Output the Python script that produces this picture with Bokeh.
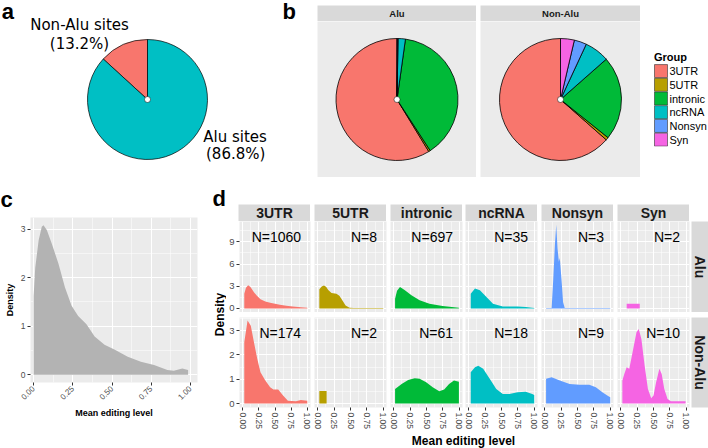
import math
from bokeh.plotting import figure
from bokeh.layouts import row, column
from bokeh.models import (Range1d, FixedTicker, LinearAxis, NumeralTickFormatter, Spacer,
                          FactorRange, Grid, ColumnDataSource)
from bokeh.core.properties import value
from bokeh.embed import file_html
from bokeh.resources import INLINE

# ------------------------------------------------------------------ data
site_names = ["Non-Alu sites", "Alu sites"]
site_percent = [13.2, 86.8]
site_colors = ["#F8766D", "#00BFC4"]

groups = ["3UTR", "5UTR", "intronic", "ncRNA", "Nonsyn", "Syn"]
group_colors = ["#F8766D", "#B79F00", "#00BA38", "#00BFC4", "#619CFF", "#F564E3"]
alu_counts = [1060, 8, 697, 35, 3, 2]
nonalu_counts = [174, 2, 61, 18, 9, 10]
facet_rows = ["Alu", "Non-Alu"]

x_ticks = [0.0, 0.25, 0.5, 0.75, 1.0]
x_minor = [0.125, 0.375, 0.625, 0.875]
c_y_ticks = [0, 1, 2, 3]
c_y_minor = [0.5, 1.5, 2.5]
alu_y_ticks = [0, 3, 6, 9]
alu_y_minor = [1.5, 4.5, 7.5, 10.5]
non_y_ticks = [0, 1, 2, 3]
non_y_minor = [0.5, 1.5, 2.5, 3.5]

# panel c: all sites
c_x = [0.0, 0.01, 0.032, 0.052, 0.063, 0.084, 0.116, 0.158, 0.2, 0.242, 0.284, 0.337,
       0.389, 0.452, 0.515, 0.6, 0.684, 0.768, 0.853, 0.894, 0.948, 0.985]
c_y = [1.62, 2.2, 2.77, 3.05, 3.08, 2.98, 2.7, 2.29, 1.8, 1.42, 1.21, 1.04,
       0.79, 0.62, 0.52, 0.37, 0.27, 0.2, 0.1, 0.08, 0.13, 0.1]

# panel d, Alu row
alu_3utr_x = [0.024, 0.05, 0.084, 0.12, 0.174, 0.22, 0.275, 0.35, 0.425, 0.5, 0.575, 0.675, 0.775, 0.9, 1.0]
alu_3utr_y = [2.0, 2.8, 3.14, 2.9, 2.2, 1.7, 1.23, 0.95, 0.77, 0.62, 0.5, 0.37, 0.27, 0.17, 0.1]
alu_5utr_x = [0.024, 0.06, 0.095, 0.13, 0.16, 0.21, 0.285, 0.33, 0.36, 0.425, 0.485, 0.55, 1.0]
alu_5utr_y = [2.6, 2.95, 3.1, 2.9, 2.5, 2.1, 2.0, 1.7, 1.3, 0.4, 0.1, 0.06, 0.06]
alu_intronic_x = [0.02, 0.05, 0.095, 0.13, 0.17, 0.27, 0.395, 0.545, 0.745, 0.995]
alu_intronic_y = [1.3, 2.4, 2.9, 2.7, 2.45, 1.77, 1.1, 0.64, 0.32, 0.1]
alu_ncrna_x = [0.03, 0.095, 0.17, 0.27, 0.37, 0.52, 0.745, 0.87, 1.0]
alu_ncrna_y = [2.0, 2.7, 2.45, 1.55, 0.64, 0.27, 0.27, 0.18, 0.05]
alu_nonsyn_x = [0.02, 0.105, 0.13, 0.155, 0.175, 0.195, 0.215, 0.23, 0.255, 0.28, 0.305, 1.0]
alu_nonsyn_y = [0.06, 0.06, 4.0, 8.6, 11.3, 8.1, 6.3, 6.8, 4.0, 0.85, 0.06, 0.06]
alu_syn_x = [0.09, 0.29]
alu_syn_y = [0.64, 0.64]

# panel d, Non-Alu row
non_3utr_x = [0.024, 0.075, 0.125, 0.174, 0.225, 0.275, 0.35, 0.425, 0.475, 0.55, 0.625, 0.7, 0.825, 0.9, 1.0]
non_3utr_y = [2.52, 3.42, 3.2, 2.52, 1.84, 1.29, 0.95, 0.67, 0.58, 0.58, 0.33, 0.12, 0.1, 0.15, 0.12]
non_5utr_x = [0.024, 0.135]
non_5utr_y = [0.52, 0.52]
non_intronic_x = [0.02, 0.12, 0.22, 0.32, 0.395, 0.495, 0.595, 0.695, 0.77, 0.845, 0.92, 0.995]
non_intronic_y = [0.6, 0.81, 0.97, 1.04, 1.02, 0.88, 0.67, 0.51, 0.58, 0.81, 0.95, 0.9]
non_ncrna_x = [0.03, 0.095, 0.145, 0.22, 0.32, 0.42, 0.52, 0.62, 0.745, 0.87, 0.97, 1.0]
non_ncrna_y = [1.29, 1.49, 1.56, 1.43, 1.02, 0.6, 0.4, 0.4, 0.47, 0.49, 0.4, 0.35]
non_nonsyn_x = [0.02, 0.105, 0.23, 0.38, 0.53, 0.68, 0.78, 0.88, 0.955, 1.0]
non_nonsyn_y = [1.02, 1.08, 0.95, 0.81, 0.78, 0.78, 0.67, 0.47, 0.33, 0.26]
non_syn_x = [0.024, 0.054, 0.09, 0.13, 0.19, 0.24, 0.275, 0.315, 0.365, 0.415, 0.465, 0.5,
             0.54, 0.59, 0.625, 0.665, 0.715, 0.765, 0.99]
non_syn_y = [0.95, 1.22, 1.49, 1.43, 2.25, 2.93, 3.07, 2.66, 1.56, 0.6, 0.22, 0.33,
             0.88, 1.43, 1.22, 0.6, 0.19, 0.1, 0.1]

alu_curves = [(alu_3utr_x, alu_3utr_y), (alu_5utr_x, alu_5utr_y), (alu_intronic_x, alu_intronic_y),
              (alu_ncrna_x, alu_ncrna_y), (alu_nonsyn_x, alu_nonsyn_y), (alu_syn_x, alu_syn_y)]
non_curves = [(non_3utr_x, non_3utr_y), (non_5utr_x, non_5utr_y), (non_intronic_x, non_intronic_y),
              (non_ncrna_x, non_ncrna_y), (non_nonsyn_x, non_nonsyn_y), (non_syn_x, non_syn_y)]

# ------------------------------------------------------------------ style
FONT = "Liberation Sans"
PANEL_BG = "#EBEBEB"
STRIP_BG = "#D9D9D9"
TICK_TXT = "#4D4D4D"
TICK_LINE = "#333333"


def sp(w, h):
    return Spacer(width=w, height=h, sizing_mode="fixed")


def make_fig(w, h, xr, yr, bg="white", left=0, right=0, top=0, bottom=0):
    p = figure(width=w, height=h, x_range=xr if not isinstance(xr, tuple) else Range1d(*xr),
               y_range=yr if not isinstance(yr, tuple) else Range1d(*yr),
               x_axis_location=None, y_axis_location=None, sizing_mode="fixed",
               output_backend="svg", toolbar_location=None)
    p.frame_align = False
    p.min_border_left = left
    p.min_border_right = right
    p.min_border_top = top
    p.min_border_bottom = bottom
    p.background_fill_color = bg
    p.border_fill_color = "white"
    p.outline_line_color = None
    p.grid.visible = False
    return p


def add_grids(p, xt, xm, yt, ym):
    for dim, t, m in ((0, xt, xm), (1, yt, ym)):
        p.add_layout(Grid(dimension=dim, ticker=FixedTicker(ticks=t, minor_ticks=m),
                          grid_line_color="white", grid_line_width=1.1,
                          minor_grid_line_color="white", minor_grid_line_width=0.5), "center")


def axis(ticks, size, orient="horizontal", fmt=None, label=None, label_size="9px"):
    kw = dict(ticker=FixedTicker(ticks=ticks), axis_line_color=None,
              major_tick_line_color=TICK_LINE, major_tick_out=3, major_tick_in=0,
              minor_tick_line_color=None, major_label_text_font=FONT,
              major_label_text_font_size=size, major_label_text_color=TICK_TXT,
              major_label_standoff=2, major_label_orientation=orient)
    if fmt is not None:
        kw["formatter"] = NumeralTickFormatter(format=fmt)
    if label is not None:
        kw.update(axis_label=label, axis_label_text_font=FONT, axis_label_text_font_size=label_size,
                  axis_label_text_font_style="bold", axis_label_text_color="black",
                  axis_label_standoff=3)
    return LinearAxis(**kw)


def pie(p, counts, colors, line_w=0.8):
    total = float(sum(counts))
    starts, ends, acc = [], [], 0.0
    for c in counts:
        starts.append(math.pi / 2 + 2 * math.pi * acc / total)
        acc += c
        ends.append(math.pi / 2 + 2 * math.pi * acc / total)
    src = ColumnDataSource(data=dict(start=starts, end=ends, color=colors))
    p.wedge(x=0, y=0, radius=1, start_angle="start", end_angle="end", direction="anticlock",
            fill_color="color", line_color="black", line_width=line_w, source=src)
    p.scatter(x=[0], y=[0], size=6, fill_color="white", line_color="black", line_width=0.5)


def strip(w, h, text, angle=0.0, bottom=0, size="14px"):
    p = make_fig(w, h, (0, 1), (0, 1), bg=STRIP_BG, bottom=bottom)
    p.text(x=[0.5], y=[0.5], text=[text], angle=angle, text_align="center", text_baseline="middle",
           text_font=value(FONT), text_font_style="bold", text_font_size=size, text_color="#1A1A1A")
    return p


def tag(p, x, y, s):
    p.text(x=[x], y=[y], text=[s], text_align="left", text_baseline="middle",
           text_font=value(FONT), text_font_style="bold", text_font_size="22px", text_color="black")


TOP_H = 178

# ------------------------------------------------------------------ panel a (+ "b" tag)
fa = make_fig(317, TOP_H, (-147 / 60, 170 / 60), (-(TOP_H - 99) / 60, 99 / 60))
pie(fa, site_percent, site_colors, line_w=0.7)
fa.text(x=[-1.133, -1.133], y=[1.25, 0.933],
        text=[site_names[0], "(%.1f%%)" % site_percent[0]],
        text_align="center", text_baseline="middle", text_font=value("DejaVu Sans"),
        text_font_size="15px", text_color="black")
fa.text(x=[1.46, 1.47], y=[-0.625, -0.9],
        text=[site_names[1], "(%.1f%%)" % site_percent[1]],
        text_align="center", text_baseline="middle", text_font=value("DejaVu Sans"),
        text_font_size="15px", text_color="black")
tag(fa, -2.43, 1.46, "a")
tag(fa, 2.25, 1.46, "b")


# ------------------------------------------------------------------ panel b
def pie_panel(name, counts, w):
    s = strip(w, 16, name, size="9.5px")
    p = make_fig(w, 156, (-w / 122, w / 122), (-156 / 122, 156 / 122), bg=PANEL_BG)
    pie(p, counts, group_colors)
    return column(sp(w, 5), s, p, sp(w, 1), sizing_mode="fixed")


b_alu = pie_panel(facet_rows[0], alu_counts, 159)
b_non = pie_panel(facet_rows[1], nonalu_counts, 160)

leg = make_fig(68, TOP_H, (0, 68), FactorRange(factors=list(reversed(groups)) + ["Group"]),
               top=50, bottom=32)
leg.scatter(x=[20.5] * len(groups), y=groups, marker="square", size=13, fill_color=group_colors,
            line_color="#333333", line_width=0.6)
leg.text(x=[29] * len(groups), y=groups, text=groups, text_baseline="middle",
         text_font=value(FONT), text_font_size="11px", text_color="black")
leg.text(x=[13.5], y=["Group"], text=["Group"], text_baseline="middle", text_font=value(FONT),
         text_font_style="bold", text_font_size="11px", text_color="black")

top = row(fa, b_alu, sp(4, TOP_H), b_non, leg, sizing_mode="fixed")

# ------------------------------------------------------------------ panel c
BOT_H = 448 - TOP_H
c_lab = make_fig(210, 34, (0, 210), (34, 0))
tag(c_lab, 0, 21, "c")

fc = make_fig(210, BOT_H - 34, (-0.02, 1.045), (-0.16, 3.24), bg=PANEL_BG,
              left=30, right=13, top=5, bottom=BOT_H - 34 - 5 - 165)
add_grids(fc, x_ticks, x_minor, c_y_ticks, c_y_minor)
fc.varea(x=c_x, y1=0, y2=c_y, fill_color="#B3B3B3")
fc.add_layout(axis(c_y_ticks, "8.5px", label="Density"), "left")
fc.add_layout(axis(x_ticks, "8px", orient=math.pi / 4, fmt="0.00", label="Mean editing level"), "below")
c_col = column(c_lab, fc, sizing_mode="fixed")

# ------------------------------------------------------------------ panel d
row_ranges = [(-0.55, 11.75), (-0.16, 3.54)]
row_ticks = [(alu_y_ticks, alu_y_minor), (non_y_ticks, non_y_minor)]
row_label_y = [9.7, 2.92]
row_counts = [alu_counts, nonalu_counts]
row_curves = [alu_curves, non_curves]
row_frame_h = [91, 90]
YT_W = 16
AX_W = 12
AX_H = 26
END_PAD = 2
gaps = [4, 4, 3, 4, 4]
GRID_W = AX_W + 72 * 6 + sum(gaps) + END_PAD + 17


def side_pads(ci):
    left = AX_W if ci == 0 else gaps[ci - 1] - gaps[ci - 1] // 2
    right = gaps[ci] // 2 if ci < len(gaps) else END_PAD
    return left, right


def density_panel(ri, ci):
    left, right = side_pads(ci)
    bottom = AX_H if ri == 1 else 0
    p = make_fig(72 + left + right, row_frame_h[ri] + bottom, (-0.05, 1.05), row_ranges[ri],
                 bg=PANEL_BG, left=left, right=right, bottom=bottom)
    add_grids(p, x_ticks, x_minor, row_ticks[ri][0], row_ticks[ri][1])
    xs, ys = row_curves[ri][ci]
    p.varea(x=xs, y1=0, y2=ys, fill_color=group_colors[ci])
    p.text(x=[0.905], y=[row_label_y[ri]], text=["N=%d" % row_counts[ri][ci]], text_align="right",
           text_baseline="middle", text_font=value(FONT), text_font_size="14px", text_color="black")
    if ci == 0:
        p.add_layout(axis(row_ticks[ri][0], "9.5px"), "left")
    if ri == 1:
        p.add_layout(axis(x_ticks, "8.5px", orient="vertical", fmt="0.00"), "below")
    return p


strip_items = [sp(AX_W, 17)]
for ci, g in enumerate(groups):
    if ci > 0:
        strip_items.append(sp(gaps[ci - 1], 17))
    strip_items.append(strip(72, 17, g))
strip_items.append(sp(END_PAD + 17, 17))
strip_row = row(*strip_items, sizing_mode="fixed")

panel_rows = []
for ri in range(2):
    h = row_frame_h[ri] + (AX_H if ri == 1 else 0)
    items = [density_panel(ri, ci) for ci in range(len(groups))]
    items.append(strip(17, h, facet_rows[ri], angle=-math.pi / 2, bottom=AX_H if ri == 1 else 0))
    panel_rows.append(row(*items, sizing_mode="fixed"))

XT_H = BOT_H - 26 - 17 - 91 - 5 - 90 - AX_H
xt = make_fig(GRID_W, XT_H, (0, GRID_W), (XT_H, 0))
xt.text(x=[237], y=[XT_H / 2], text=["Mean editing level"], text_align="center", text_baseline="middle",
        text_font=value(FONT), text_font_style="bold", text_font_size="12px", text_color="black")

yt = make_fig(YT_W, BOT_H, (0, YT_W), (BOT_H, 0))
tag(yt, 2, 19.5, "d")
yt.text(x=[9], y=[136], text=["Density"], angle=math.pi / 2, text_align="center",
        text_baseline="middle", text_font=value(FONT), text_font_style="bold",
        text_font_size="12px", text_color="black")

d_grid = column(sp(GRID_W, 26), strip_row, panel_rows[0], sp(GRID_W, 5), panel_rows[1], xt,
                sizing_mode="fixed")
d_block = row(yt, d_grid, sizing_mode="fixed")

bottom = row(c_col, d_block, sizing_mode="fixed")
layout = column(top, bottom, sizing_mode="fixed")

open("out.html", "w").write(file_html(layout, INLINE))
